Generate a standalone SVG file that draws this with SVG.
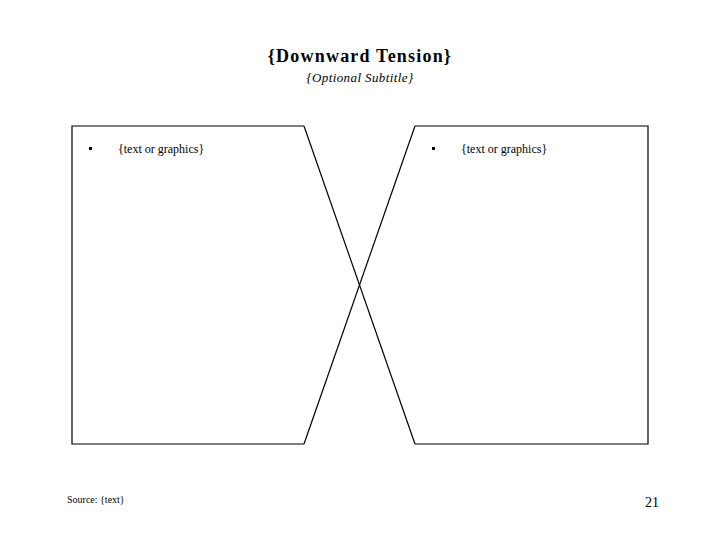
<svg xmlns="http://www.w3.org/2000/svg" width="720" height="540" viewBox="0 0 720 540">
<style>
.t{font-family:"Liberation Serif","Times New Roman",serif;fill:#000}
.ln{fill:none;stroke:#000;stroke-width:1.2}
</style>
<rect width="720" height="540" fill="#fff"/>
<g id="title">
<text class="t" x="360" y="62" text-anchor="middle" font-size="18" font-weight="bold" letter-spacing="1.2">{Downward Tension}</text>
<text class="t" x="360" y="82" text-anchor="middle" font-size="13" font-style="italic" letter-spacing="0.4">{Optional Subtitle}</text>
</g>
<g id="left-panel">
<polyline class="ln" points="304,126 72,126 72,444 304,444"/>
<rect x="89" y="147" width="3" height="3" fill="#000"/>
<text class="t" x="118" y="153" font-size="12">{text or graphics}</text>
</g>
<g id="right-panel">
<polyline class="ln" points="415,126 648,126 648,444 415,444"/>
<rect x="432" y="147" width="3" height="3" fill="#000"/>
<text class="t" x="461" y="153" font-size="12">{text or graphics}</text>
</g>
<g id="connectors">
<line class="ln" x1="304" y1="126" x2="415" y2="444"/>
<line class="ln" x1="415" y1="126" x2="304" y2="444"/>
</g>
<g id="footer">
<text class="t" x="67" y="503" font-size="10">Source: {text}</text>
<text class="t" x="652" y="507" text-anchor="middle" font-size="14">21</text>
</g>
</svg>
